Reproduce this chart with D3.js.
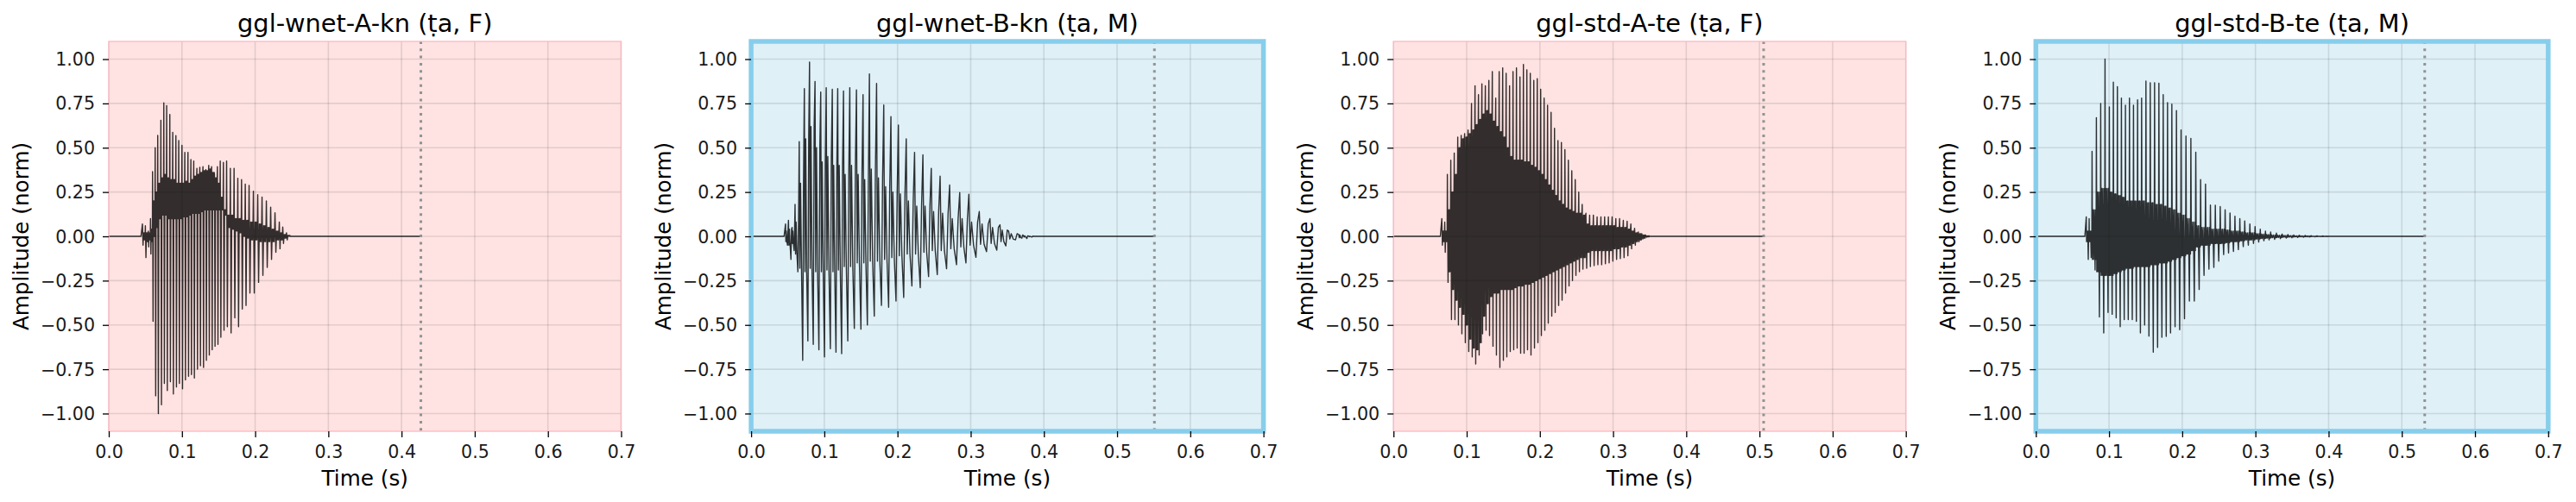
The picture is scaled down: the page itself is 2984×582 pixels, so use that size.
<!DOCTYPE html>
<html>
<head>
<meta charset="utf-8">
<script src="https://cdn.jsdelivr.net/npm/d3@7"></script>
<style>
  body { margin: 0; background: #fff; }
  text { font-family: "DejaVu Sans", sans-serif; }
</style>
</head>
<body>
<svg id="chart" width="2984" height="582"></svg>
<script>
// ---- data ----
const panelTitles = ["ggl-wnet-A-kn (ṭa, F)", "ggl-wnet-B-kn (ṭa, M)", "ggl-std-A-te (ṭa, F)", "ggl-std-B-te (ṭa, M)"];
const speakerSex = ["F", "M", "F", "M"];
const clipEnd = [0.4264, 0.551, 0.5057, 0.5313];   // dotted line = end of audio (s)
const xTicks = [0, 0.1, 0.2, 0.3, 0.4, 0.5, 0.6, 0.7];
const yTicks = [-1, -0.75, -0.5, -0.25, 0, 0.25, 0.5, 0.75, 1];

// per glottal cycle: start time, positive peak, negative peak, inner ripple top/bottom
const wnetA_t = [0.046, 0.050, 0.054, 0.057,
  0.0598, 0.0634, 0.0669, 0.0712, 0.0752, 0.0791, 0.0834, 0.0874, 0.0917, 0.0956, 0.1000, 0.1039, 0.1082, 0.1122,
  0.1161, 0.1204, 0.1244, 0.1287, 0.1326, 0.1366, 0.1405, 0.1444, 0.1484, 0.1523, 0.1566, 0.1610, 0.1661, 0.1712,
  0.1763, 0.1814, 0.1865, 0.1917, 0.1976, 0.2035, 0.2094, 0.2153, 0.2212, 0.2271, 0.2330, 0.2377, 0.2428];
const wnetA_hi = [0.07, 0.06, 0.03, 0.10,
  0.365, 0.50, 0.57, 0.655, 0.753, 0.738, 0.688, 0.587, 0.568, 0.54, 0.514, 0.474, 0.474, 0.433, 0.425, 0.384,
  0.39, 0.393, 0.376, 0.40, 0.393, 0.35, 0.393, 0.425, 0.417, 0.425, 0.384, 0.384, 0.328, 0.32, 0.295, 0.287,
  0.255, 0.235, 0.222, 0.20, 0.165, 0.133, 0.081, 0.052, 0.02];
const wnetA_lo = [-0.05, -0.12, -0.06, -0.10,
  -0.48, -0.90, -1.00, -0.95, -0.83, -0.87, -0.82, -0.89, -0.85, -0.83, -0.86, -0.81, -0.79, -0.78, -0.80, -0.75,
  -0.73, -0.74, -0.70, -0.67, -0.64, -0.62, -0.61, -0.57, -0.53, -0.51, -0.545, -0.46, -0.51, -0.41, -0.39, -0.32,
  -0.32, -0.26, -0.22, -0.175, -0.13, -0.09, -0.07, -0.04, -0.02];
const wnetA_ripHi = [0.02, 0.02, 0.02, 0.04,
  0.2, 0.25, 0.3, 0.33, 0.35, 0.33, 0.32, 0.32, 0.3, 0.3, 0.3, 0.31, 0.3, 0.32, 0.34, 0.35, 0.36, 0.37, 0.37, 0.38,
  0.36, 0.33, 0.3, 0.22, 0.15, 0.12, 0.12, 0.1, 0.1, 0.09, 0.09, 0.08, 0.08, 0.07, 0.06, 0.05, 0.04, 0.03, 0.02, 0.01, 0.005];
const wnetA_ripLo = [-0.02, -0.03, -0.02, -0.03,
  0.0, 0.05, 0.1, 0.12, 0.12, 0.1, 0.1, 0.1, 0.1, 0.1, 0.11, 0.11, 0.12, 0.13, 0.13, 0.13, 0.14, 0.15, 0.15, 0.15,
  0.15, 0.15, 0.15, 0.15, 0.12, 0.05, 0.04, 0.03, 0.02, 0.0, -0.01, -0.02, -0.02, -0.03, -0.03, -0.03, -0.03, -0.02, -0.02, -0.01, 0];

const wnetB_t = [0.047, 0.051, 0.056, 0.060,
  0.0657, 0.0727, 0.0798, 0.0873, 0.0951, 0.1026, 0.1109, 0.1183, 0.1262, 0.1348, 0.1439, 0.1529, 0.1616, 0.1714,
  0.1812, 0.1910, 0.2012, 0.2119, 0.2233, 0.2347, 0.2461, 0.2582, 0.2712, 0.2850, 0.2975, 0.3117, 0.3263, 0.3400,
  0.3518, 0.3656, 0.372, 0.379];
const wnetB_hi = [0.07, 0.09, 0.05, 0.18,
  0.535, 0.834, 0.983, 0.874, 0.814, 0.839, 0.83, 0.834, 0.82, 0.839, 0.827, 0.80, 0.916, 0.863, 0.741, 0.676,
  0.628, 0.55, 0.474, 0.46, 0.384, 0.34, 0.29, 0.247, 0.238, 0.14, 0.10, 0.065, 0.03, 0.01, 0.005, 0.002];
const wnetB_lo = [-0.05, -0.13, -0.08, -0.2,
  -0.70, -0.59, -0.61, -0.64, -0.68, -0.634, -0.654, -0.662, -0.59, -0.52, -0.524, -0.50, -0.45, -0.39, -0.40, -0.365,
  -0.345, -0.28, -0.29, -0.227, -0.216, -0.183, -0.16, -0.15, -0.118, -0.086, -0.078, -0.054, -0.02, -0.01, -0.012, -0.004];
const wnetB_ripHi = [0.03, 0.04, 0.03, 0.08,
  0.3, 0.55, 0.62, 0.5, 0.42, 0.45, 0.4, 0.4, 0.35, 0.4, 0.35, 0.32, 0.38, 0.33, 0.28, 0.25, 0.24, 0.2, 0.17, 0.17,
  0.14, 0.13, 0.1, 0.1, 0.08, 0.07, 0.05, 0.035, 0.015, 0.008, 0.003, 0.001];
const wnetB_ripLo = [-0.03, -0.05, -0.04, -0.1,
  -0.18, -0.2, -0.18, -0.2, -0.2, -0.19, -0.2, -0.19, -0.17, -0.17, -0.15, -0.15, -0.14, -0.14, -0.13, -0.12, -0.11,
  -0.1, -0.1, -0.09, -0.08, -0.08, -0.07, -0.06, -0.05, -0.045, -0.04, -0.03, -0.015, -0.008, -0.004, -0.002];

const stdA_t = [0.066, 0.070,
  0.0736, 0.0783, 0.0830, 0.0878, 0.0925, 0.0972, 0.1019, 0.1066, 0.1114, 0.1161, 0.1208, 0.1255, 0.1303, 0.1350,
  0.1397, 0.1444, 0.1492, 0.1539, 0.1586, 0.1633, 0.1680, 0.1728, 0.1775, 0.1822, 0.1869, 0.1917, 0.1964, 0.2011,
  0.2058, 0.2105, 0.2153, 0.2200, 0.2247, 0.2294, 0.2342, 0.2389, 0.2436, 0.2483, 0.2531, 0.2578, 0.2629, 0.2680,
  0.2731, 0.2782, 0.2834, 0.2885, 0.2936, 0.2987, 0.3038, 0.3089, 0.3140, 0.3192, 0.3243, 0.3294, 0.3345, 0.3396, 0.3447];
const stdA_hi = [0.10, 0.08,
  0.35, 0.43, 0.47, 0.56, 0.57, 0.58, 0.60, 0.75, 0.85, 0.80, 0.86, 0.85, 0.88, 0.93, 0.78, 0.93, 0.95, 0.92, 0.85,
  0.93, 0.95, 0.90, 0.97, 0.94, 0.92, 0.88, 0.89, 0.83, 0.78, 0.74, 0.70, 0.61, 0.54, 0.53, 0.49, 0.43, 0.37, 0.32,
  0.25, 0.18, 0.13, 0.12, 0.12, 0.11, 0.11, 0.11, 0.11, 0.11, 0.10, 0.10, 0.09, 0.085, 0.07, 0.045, 0.025, 0.01, 0.005];
const stdA_lo = [-0.05, -0.09,
  -0.26, -0.47, -0.47, -0.50, -0.55, -0.60, -0.65, -0.68, -0.72, -0.67, -0.55, -0.53, -0.56, -0.62, -0.67, -0.74,
  -0.70, -0.68, -0.65, -0.64, -0.63, -0.66, -0.66, -0.64, -0.67, -0.63, -0.60, -0.56, -0.53, -0.49, -0.45, -0.43,
  -0.39, -0.36, -0.32, -0.28, -0.25, -0.22, -0.20, -0.185, -0.18, -0.17, -0.165, -0.16, -0.16, -0.155, -0.15, -0.14,
  -0.13, -0.125, -0.12, -0.11, -0.07, -0.05, -0.03, -0.015, -0.005];
const stdA_ripHi = [0.03, 0.03,
  0.15, 0.25, 0.35, 0.5, 0.55, 0.56, 0.58, 0.6, 0.63, 0.66, 0.69, 0.71, 0.69, 0.65, 0.62, 0.59, 0.56, 0.5, 0.45, 0.43,
  0.43, 0.43, 0.42, 0.42, 0.4, 0.39, 0.37, 0.35, 0.32, 0.29, 0.26, 0.23, 0.2, 0.18, 0.16, 0.15, 0.14, 0.13, 0.13, 0.12,
  0.07, 0.06, 0.06, 0.06, 0.06, 0.06, 0.06, 0.06, 0.05, 0.05, 0.05, 0.04, 0.03, 0.02, 0.015, 0.008, 0.003];
const stdA_ripLo = [-0.03, -0.03,
  -0.2, -0.3, -0.36, -0.4, -0.44, -0.5, -0.58, -0.63, -0.64, -0.6, -0.45, -0.38, -0.34, -0.32, -0.32, -0.3, -0.3, -0.3,
  -0.3, -0.29, -0.28, -0.28, -0.27, -0.27, -0.26, -0.25, -0.24, -0.23, -0.22, -0.21, -0.2, -0.19, -0.18, -0.17, -0.16,
  -0.15, -0.14, -0.13, -0.12, -0.12, -0.09, -0.08, -0.08, -0.08, -0.08, -0.08, -0.08, -0.07, -0.07, -0.06, -0.06,
  -0.05, -0.04, -0.03, -0.02, -0.01, -0.003];

const stdB_t = [0.0689, 0.0728,
  0.0768, 0.0827, 0.0886, 0.0945, 0.1004, 0.1059, 0.1114, 0.1169, 0.1224, 0.1279, 0.1334, 0.1390, 0.1445, 0.1504,
  0.1563, 0.1622, 0.1681, 0.1740, 0.1799, 0.1858, 0.1921, 0.1984, 0.2051, 0.2118, 0.2185, 0.2251, 0.2318, 0.2385,
  0.2452, 0.2519, 0.2586, 0.2653, 0.2720, 0.2787, 0.2854, 0.2924, 0.2995, 0.3066, 0.3137, 0.3208, 0.3287, 0.3365,
  0.3444, 0.3523, 0.360, 0.368, 0.376, 0.384, 0.392];
const stdB_hi = [0.11, 0.10,
  0.48, 0.67, 0.75, 1.0, 0.73, 0.87, 0.845, 0.78, 0.74, 0.78, 0.74, 0.77, 0.78, 0.876, 0.867, 0.867, 0.864, 0.80,
  0.755, 0.746, 0.71, 0.60, 0.566, 0.553, 0.475, 0.32, 0.295, 0.177, 0.175, 0.168, 0.15, 0.132, 0.114, 0.10, 0.087,
  0.07, 0.055, 0.04, 0.03, 0.024, 0.018, 0.013, 0.01, 0.008, 0.006, 0.005, 0.004, 0.003, 0.002];
const stdB_lo = [-0.13, -0.12,
  -0.19, -0.455, -0.545, -0.43, -0.44, -0.46, -0.51, -0.47, -0.47, -0.47, -0.48, -0.545, -0.50, -0.563, -0.654,
  -0.627, -0.57, -0.565, -0.545, -0.51, -0.527, -0.465, -0.365, -0.365, -0.30, -0.22, -0.185, -0.175, -0.14, -0.103,
  -0.094, -0.085, -0.075, -0.058, -0.05, -0.04, -0.032, -0.025, -0.02, -0.017, -0.013, -0.01, -0.008, -0.006,
  -0.005, -0.004, -0.003, -0.002, -0.001];
const stdB_ripHi = [0.03, 0.03,
  0.15, 0.25, 0.27, 0.27, 0.25, 0.24, 0.23, 0.22, 0.2, 0.2, 0.2, 0.2, 0.2, 0.19, 0.19, 0.18, 0.18, 0.17, 0.16, 0.15,
  0.13, 0.12, 0.1, 0.08, 0.06, 0.05, 0.05, 0.04, 0.04, 0.04, 0.035, 0.03, 0.03, 0.025, 0.02, 0.02, 0.015, 0.012, 0.01,
  0.008, 0.006, 0.005, 0.004, 0.003, 0.002, 0.002, 0.001, 0.001, 0.001];
const stdB_ripLo = [-0.03, -0.03,
  -0.13, -0.2, -0.22, -0.22, -0.22, -0.21, -0.2, -0.19, -0.18, -0.18, -0.17, -0.17, -0.17, -0.17, -0.16, -0.16, -0.15,
  -0.15, -0.14, -0.13, -0.12, -0.11, -0.1, -0.08, -0.06, -0.05, -0.05, -0.04, -0.04, -0.04, -0.035, -0.03, -0.03,
  -0.025, -0.02, -0.02, -0.015, -0.012, -0.01, -0.008, -0.006, -0.005, -0.004, -0.003, -0.002, -0.002, -0.001, -0.001, -0.001];

// ---- layout / style ----
const W = 2984, H = 582;
const left0 = 126, step = 744.1, pw = 593.5, plotTop = 48, ph = 452;

// where inside one cycle each extreme sits (fraction of the period)
const shapeF = [{f: 0, k: "hi"}, {f: 0.2, k: "lo"}, {f: 0.38, k: "ripHi"}, {f: 0.52, k: "ripLo"},
                {f: 0.66, k: "ripHi"}, {f: 0.8, k: "ripLo"}, {f: 0.92, k: "ripHi"}];
const shapeMsparse = [{f: 0, k: "hi"}, {f: 0.12, k: "ripLo"}, {f: 0.26, k: "ripHi"}, {f: 0.45, k: "ripLo"},
                      {f: 0.68, k: "lo"}, {f: 0.84, k: "ripHi"}];
const shapeMdense = [{f: 0, k: "hi"}, {f: 0.1, k: "ripLo"}, {f: 0.2, k: "ripHi"}, {f: 0.35, k: "ripLo"},
                     {f: 0.5, k: "ripHi"}, {f: 0.7, k: "lo"}, {f: 0.82, k: "ripHi"}, {f: 0.92, k: "ripLo"}];
const panelShape = [shapeF, shapeMsparse, shapeF, shapeMdense];

const waves = [
  {t: wnetA_t, hi: wnetA_hi, lo: wnetA_lo, ripHi: wnetA_ripHi, ripLo: wnetA_ripLo},
  {t: wnetB_t, hi: wnetB_hi, lo: wnetB_lo, ripHi: wnetB_ripHi, ripLo: wnetB_ripLo},
  {t: stdA_t, hi: stdA_hi, lo: stdA_lo, ripHi: stdA_ripHi, ripLo: stdA_ripLo},
  {t: stdB_t, hi: stdB_hi, lo: stdB_lo, ripHi: stdB_ripHi, ripLo: stdB_ripLo}
];

function wavePoints(w, shape, tEnd) {
  var t = w.t, n = t.length;
  var pts = [[0, 0], [t[0] - (t[1] - t[0]) * 0.5, 0]];
  t.forEach(function(t0, i) {
    var per = i < n - 1 ? t[i + 1] - t0 : t0 - t[i - 1];
    shape.forEach(function(s) { pts.push([t0 + s.f * per, w[s.k][i]]); });
  });
  pts.push([t[n - 1] + (t[n - 1] - t[n - 2]), 0], [tEnd, 0]);
  return pts;
}

const minus = s => s.replace("-", "\u2212");
const svg = d3.select("#chart");
svg.append("rect").attr("width", W).attr("height", H).attr("fill", "#fff");

panelTitles.forEach(function(title, i) {
  var isM = speakerSex[i] === "M";
  var x0 = left0 + i * step;
  var x = d3.scaleLinear().domain([0, 0.7]).range([x0, x0 + pw]);
  var y = d3.scaleLinear().domain([-1.1, 1.1]).range([plotTop + ph, plotTop]);
  var g = svg.append("g").attr("class", "panel_" + i);

  g.append("rect").attr("x", x0).attr("y", plotTop).attr("width", pw).attr("height", ph)
    .attr("fill", isM ? "#dff0f7" : "#fee3e2");

  // grid
  g.selectAll(".vgrid").data(xTicks).join("line").attr("class", "vgrid")
    .attr("x1", d => x(d)).attr("x2", d => x(d)).attr("y1", plotTop).attr("y2", plotTop + ph)
    .attr("stroke", "#000").attr("stroke-opacity", 0.1).attr("stroke-width", 1.6);
  g.selectAll(".hgrid").data(yTicks).join("line").attr("class", "hgrid")
    .attr("y1", d => y(d)).attr("y2", d => y(d)).attr("x1", x0).attr("x2", x0 + pw)
    .attr("stroke", "#000").attr("stroke-opacity", 0.1).attr("stroke-width", 1.6);

  // waveform
  var line = d3.line().x(d => x(d[0])).y(d => y(d[1]));
  g.append("path")
    .attr("d", line(wavePoints(waves[i], panelShape[i], clipEnd[i])))
    .attr("fill", "none").attr("stroke", "#000").attr("stroke-opacity", 0.8)
    .attr("stroke-width", 1.4).attr("stroke-linejoin", "round");

  // end-of-audio marker
  g.append("line").attr("x1", x(clipEnd[i])).attr("x2", x(clipEnd[i]))
    .attr("y1", plotTop).attr("y2", plotTop + ph)
    .attr("stroke", "#929292").attr("stroke-width", 3).attr("stroke-dasharray", "3,5.3");

  // frame
  g.append("rect").attr("x", x0).attr("y", plotTop).attr("width", pw).attr("height", ph)
    .attr("fill", "none")
    .attr("stroke", isM ? "#87ceeb" : "#ffb6c1")
    .attr("stroke-width", isM ? 5.5 : 1.3);

  // axes
  var xAxis = g.append("g").attr("transform", "translate(0," + (plotTop + ph) + ")")
    .call(d3.axisBottom(x).tickValues(xTicks).tickFormat(d3.format(".1f"))
      .tickSizeOuter(0).tickSize(7).tickPadding(9.4));
  var yAxis = g.append("g").attr("transform", "translate(" + x0 + ",0)")
    .call(d3.axisLeft(y).tickValues(yTicks).tickFormat(d => minus(d3.format(".2f")(d)))
      .tickSizeOuter(0).tickSize(7).tickPadding(9));
  [xAxis, yAxis].forEach(function(a) {
    a.select(".domain").remove();
    a.selectAll(".tick line").attr("stroke", "#000").attr("stroke-width", 1.3);
    a.selectAll(".tick text").attr("fill", "#1a1a1a").attr("font-size", 20.6)
      .attr("font-family", "DejaVu Sans");
  });
  yAxis.selectAll(".tick text").attr("dy", "0.34em");

  // labels
  g.append("text").attr("x", x0 + pw / 2).attr("y", 37).attr("text-anchor", "middle")
    .attr("font-size", 28.8).attr("fill", "#000").text(title);
  g.append("text").attr("x", x0 + pw / 2).attr("y", 563).attr("text-anchor", "middle")
    .attr("font-size", 24.7).attr("fill", "#000").text("Time (s)");
  g.append("text").attr("transform", "translate(" + (x0 - 93) + "," + (plotTop + ph / 2) + ") rotate(-90)")
    .attr("text-anchor", "middle").attr("font-size", 24.7).attr("fill", "#000")
    .text("Amplitude (norm)");
});
</script>
</body>
</html>
